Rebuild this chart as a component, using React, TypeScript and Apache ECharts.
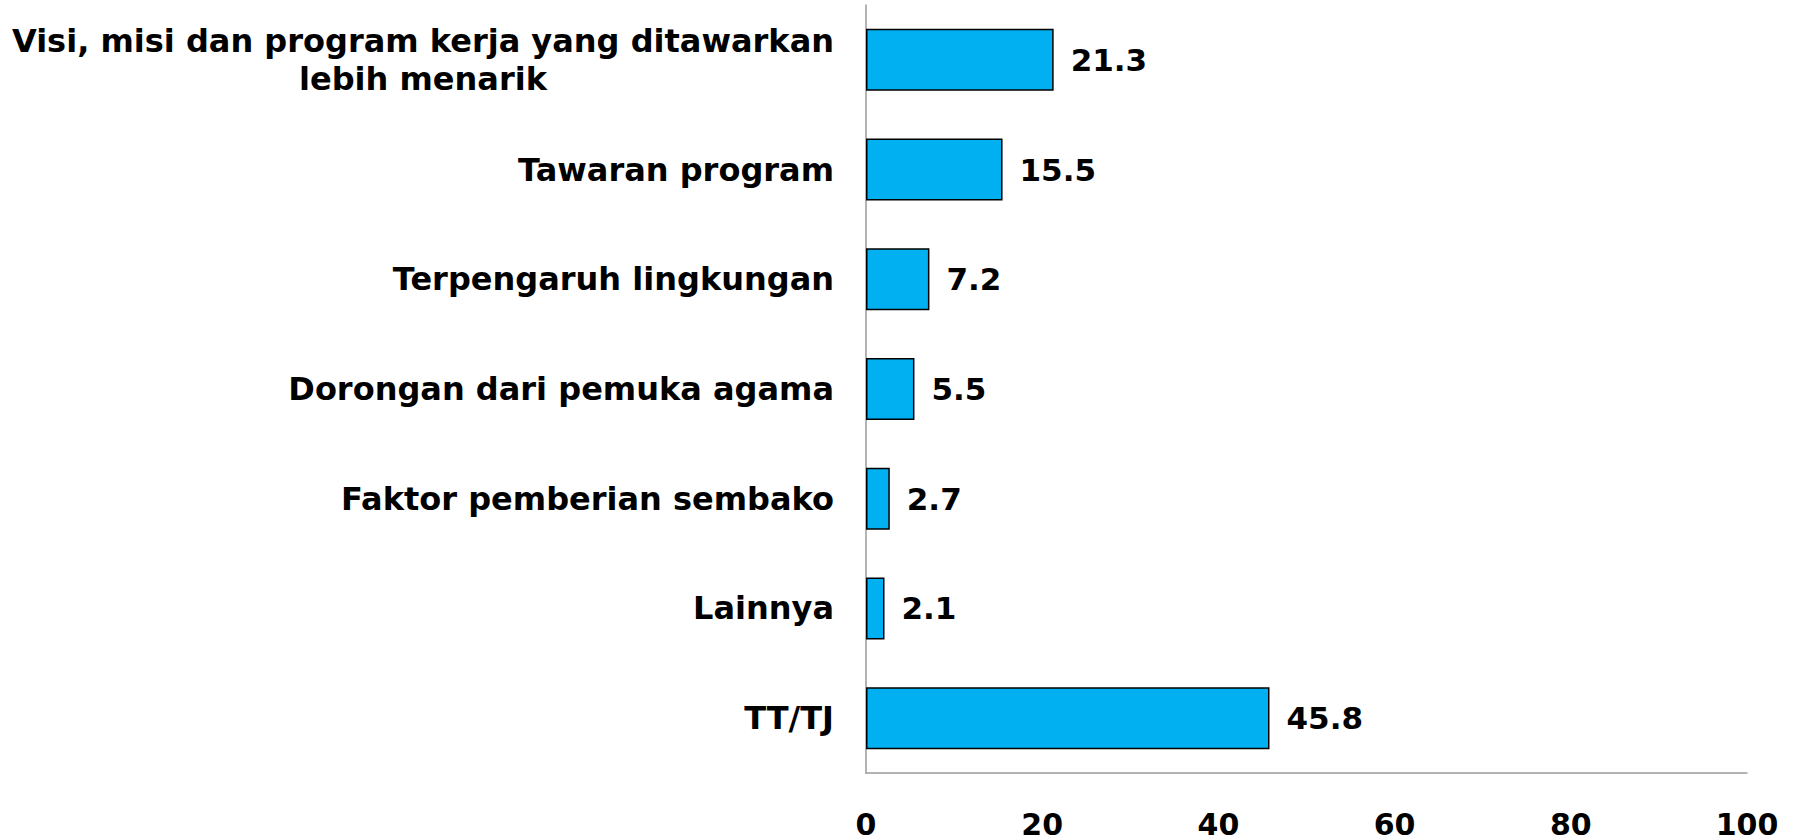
import React, { useEffect, useRef } from "react";
import * as echarts from "echarts";

const categories = [
  "Visi, misi dan program kerja yang ditawarkan\nlebih menarik",
  "Tawaran program",
  "Terpengaruh lingkungan",
  "Dorongan dari pemuka agama",
  "Faktor pemberian sembako",
  "Lainnya",
  "TT/TJ",
];
const values = [21.3, 15.5, 7.2, 5.5, 2.7, 2.1, 45.8];
const xMin = 0;
const xMax = 100;
const xInterval = 20;

const FONT = "'DejaVu Sans', Verdana, sans-serif";

export default function App() {
  const ref = useRef<HTMLDivElement>(null);
  useEffect(() => {
    if (!ref.current) return;
    const chart = echarts.init(ref.current, undefined, { renderer: "svg" });
    chart.setOption({
      animation: false,
      backgroundColor: "#ffffff",
      grid: { left: 866, right: 50, top: 5, bottom: 66, containLabel: false },
      xAxis: {
        type: "value",
        min: xMin,
        max: xMax,
        interval: xInterval,
        axisLine: { show: true, lineStyle: { color: "#9a9a9a", width: 1.5 } },
        axisTick: { show: false },
        splitLine: { show: false },
        axisLabel: {
          margin: 37,
          fontFamily: FONT,
          fontWeight: "bold",
          fontSize: 30,
          lineHeight: 28,
          color: "#000",
        },
      },
      yAxis: {
        type: "category",
        data: categories,
        inverse: true,
        axisLine: { show: true, lineStyle: { color: "#9a9a9a", width: 1.5 } },
        axisTick: { show: false },
        axisLabel: {
          margin: 32,
          color: "#000",
          fontFamily: FONT,
          fontWeight: "bold",
          fontSize: 32,
          lineHeight: 38,
          formatter: (v: string) =>
            v
              .split("\n")
              .map((l) => `{c|${l}}`)
              .join("\n"),
          rich: {
            c: {
              align: "center",
              fontFamily: FONT,
              fontWeight: "bold",
              fontSize: 32,
              lineHeight: 38,
              color: "#000",
            },
          },
        },
      },
      series: [
        {
          type: "bar",
          data: values,
          barWidth: "56.5%",
          itemStyle: { color: "#00B0F0", borderColor: "#000", borderWidth: 1.5 },
          label: {
            show: true,
            position: "right",
            distance: 17,
            fontFamily: FONT,
            fontWeight: "bold",
            fontSize: 31,
            color: "#000",
            formatter: (p: any) => p.value.toFixed(1),
          },
        },
      ],
    });
    return () => chart.dispose();
  }, []);
  return (
    <div
      ref={ref}
      style={{ position: "absolute", left: 0, top: 0, width: 1797, height: 839 }}
    />
  );
}
